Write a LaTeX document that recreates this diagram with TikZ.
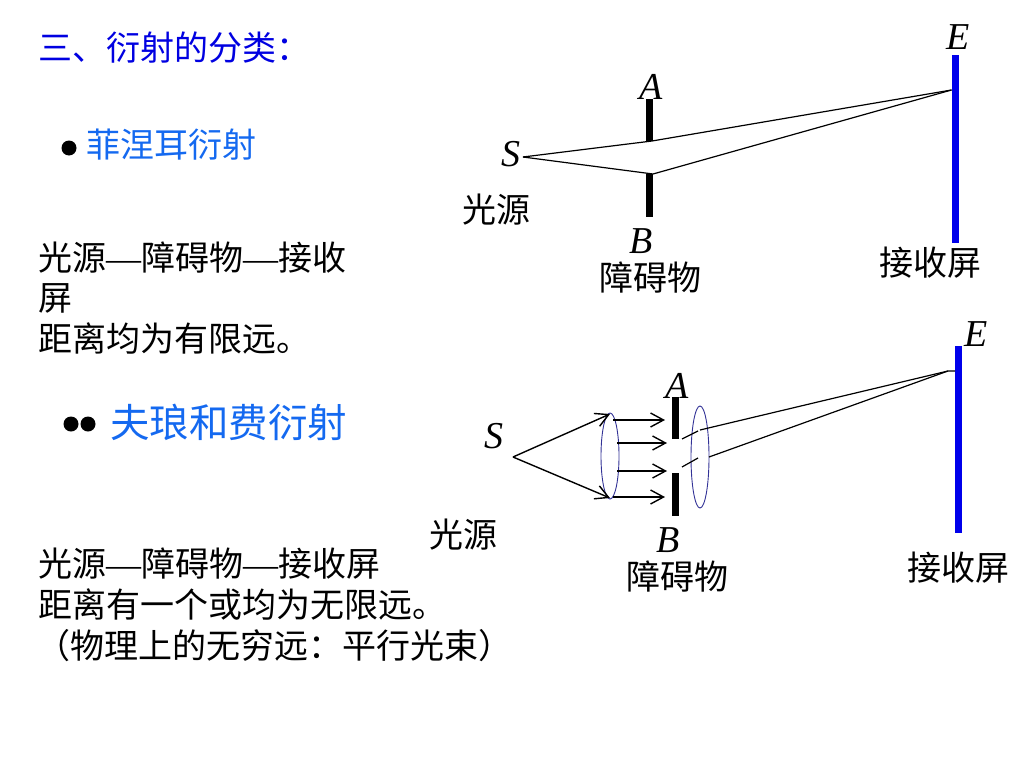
\documentclass[tikz,border=0pt]{standalone}
\usepackage{fontspec}
\setmainfont{Liberation Serif}
\newfontfamily\cjk{Noto Sans CJK SC}
\usetikzlibrary{arrows.meta,shapes.geometric}
\definecolor{headblue}{RGB}{0,0,225}
\definecolor{titleblue}{RGB}{20,105,240}
\definecolor{screenblue}{RGB}{0,0,235}
\definecolor{lensblue}{RGB}{50,50,150}
\newcommand{\dashpart}{{\fontsize{35}{35}\selectfont\rmfamily —}}
\tikzset{
  cntext/.style={inner sep=0pt,font=\cjk\fontsize{34}{34}\selectfont,text=black},
  line/.style={cntext,anchor=base west},
  center label/.style={cntext,anchor=center},
  letter/.style={inner sep=0pt,anchor=center,font=\rmfamily\itshape\fontsize{38}{38}\selectfont},
  blackbar/.style={draw=none,fill=black,minimum width=7pt,inner sep=0pt},
  screenbar/.style={draw=none,fill=screenblue,minimum width=7pt,inner sep=0pt},
  ray/.style={draw=black,line width=1.2pt},
  arrowray/.style={draw=black,line width=1.4pt,-{Straight Barb[length=13pt,width=14pt,line width=1.4pt]}},
  lens/.style={draw=lensblue,line width=0.9pt,fill=none},
  bullet/.style={circle,fill=black,inner sep=0pt,minimum size=15pt}
}
\begin{document}
\begin{tikzpicture}[x=1pt,y=-1pt]
\useasboundingbox (0,0) rectangle (1024,768);
% left column
\node[line,text=headblue] (h1) at (38,60) {三、衍射的分类：};
\node[bullet] (b1) at (69,148) {};
\node[line,text=titleblue] (t1) at (86,157) {菲涅耳衍射};
\node[line] (l1) at (38,270) {光源\dashpart 障碍物\dashpart 接收};
\node[line] (l2) at (38,310) {屏};
\node[line] (l3) at (38,351) {距离均为有限远。};
\node[bullet] (b2) at (71,424) {};
\node[bullet] (b3) at (88,424) {};
\node[line,text=titleblue,font=\cjk\fontsize{39.5}{40}\selectfont] (t2) at (110,437) {夫琅和费衍射};
\node[line] (l4) at (38,576) {光源\dashpart 障碍物\dashpart 接收屏};
\node[line] (l5) at (38,617) {距离有一个或均为无限远。};
\node[line] (l6) at (36,658) {（物理上的无穷远：平行光束）};
% upper diagram
\node[letter] (ls1) at (511,154) {S};
\node[letter] (la1) at (651,87) {A};
\node[letter] (lb1) at (641,241) {B};
\node[letter] (le1) at (958,37) {E};
\node[center label] (src1) at (496,210) {光源};
\node[center label] (obs1) at (650,278) {障碍物};
\node[center label] (scr1) at (930,263) {接收屏};
\node[blackbar,minimum height=42pt] (a1) at (649,120) {};
\node[blackbar,minimum height=43pt] (c1) at (649,195.5) {};
\node[screenbar,minimum height=188pt] (e1) at (955,149) {};
\coordinate (s1) at (523,157);
\coordinate (p1) at (652,141);
\coordinate (q1) at (653,174);
\coordinate (f1) at (951.5,90);
\draw[ray] (s1) -- (p1) -- (f1);
\draw[ray] (s1) -- (q1) -- (f1);
% lower diagram
\node[letter] (ls2) at (494,436) {S};
\node[letter] (la2) at (677,386) {A};
\node[letter] (lb2) at (668,540) {B};
\node[letter] (le2) at (976,334) {E};
\node[center label] (src2) at (463,535) {光源};
\node[center label] (obs2) at (677,577) {障碍物};
\node[center label] (scr2) at (958,568) {接收屏};
\node[blackbar,minimum height=42pt] (a2) at (675,418) {};
\node[blackbar,minimum height=43pt] (c2) at (675,494.5) {};
\node[screenbar,minimum height=187pt] (e2) at (958,439.5) {};
\node[lens,ellipse,minimum width=18pt,minimum height=86pt,inner sep=0pt] (lens1) at (610,456) {};
\node[lens,ellipse,minimum width=18pt,minimum height=102pt,inner sep=0pt] (lens2) at (700,457) {};
\coordinate (s2) at (513,457);
\coordinate (t2a) at (610,414);
\coordinate (t2b) at (610,498);
\draw[arrowray] (s2) -- (t2a);
\draw[arrowray] (s2) -- (t2b);
\coordinate (r1a) at (613,420); \coordinate (r1b) at (665,420);
\coordinate (r2a) at (617,443); \coordinate (r2b) at (667,443);
\coordinate (r3a) at (617,471); \coordinate (r3b) at (667,471);
\coordinate (r4a) at (613,497); \coordinate (r4b) at (665,497);
\draw[arrowray] (r1a) -- (r1b);
\draw[arrowray] (r2a) -- (r2b);
\draw[arrowray] (r3a) -- (r3b);
\draw[arrowray] (r4a) -- (r4b);
\coordinate (u1) at (682,439); \coordinate (u2) at (698,431);
\coordinate (u3) at (700,430);
\coordinate (v1) at (682,467); \coordinate (v2) at (698,458);
\coordinate (v3) at (709,457);
\coordinate (f2) at (948,371); \coordinate (f3) at (955,371);
\draw[ray] (u1) -- (u2);
\draw[ray] (u3) -- (f2);
\draw[ray] (v1) -- (v2);
\draw[ray] (v3) -- (f2) -- (f3);
\end{tikzpicture}
\end{document}
